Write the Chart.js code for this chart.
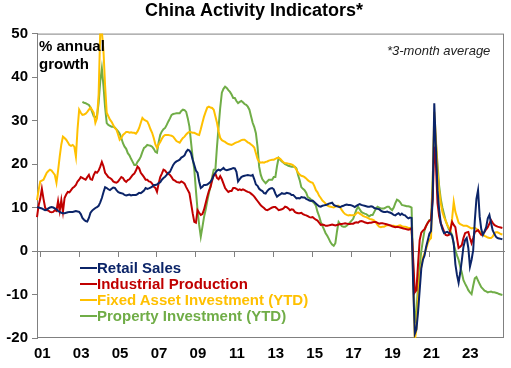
<!DOCTYPE html>
<html>
<head>
<meta charset="utf-8">
<script src="https://cdn.jsdelivr.net/npm/chart.js@4.4.1/dist/chart.umd.min.js"></script>
<style>
  html, body { margin: 0; padding: 0; background: #fff; }
  #wrap { position: relative; width: 511px; height: 368px; font-family: "Liberation Sans", Arial, sans-serif; }
  #chart { position: absolute; left: 0; top: 0; }
  .note { position: absolute; white-space: nowrap; color: #000; }
  #units { left: 39px; top: 37px; font-weight: bold; font-size: 15px; line-height: 18px; }
  #avg { left: 387px; top: 43px; font-style: italic; font-size: 13px; color: #222; }
  #legend { position: absolute; left: 80px; top: 260px; font-weight: bold; font-size: 15px; }
  #legend div { height: 16px; line-height: 16px; display: flex; align-items: center; white-space: nowrap; }
  #legend i { display: inline-block; width: 17px; height: 2px; }
</style>
</head>
<body>
<div id="wrap">
  <canvas id="chart" width="511" height="368"></canvas>
  <div class="note" id="units">% annual<br>growth</div>
  <div class="note" id="avg">*3-month average</div>
  <div id="legend"></div>
</div>
<script>
/* China activity indicators, 3-month average, monthly Nov 2000 - Oct 2024 */
const tickYears = ["01","03","05","07","09","11","13","15","17","19","21","23"];
const yTickValues = [-20, -10, 0, 10, 20, 30, 40, 50];

// month categories Nov 2000 .. Nov 2024
const months = [];
for (let i = 0; i < 289; i++) {
  const d = new Date(2000, 10 + i, 1);
  months.push(d.getFullYear() + "-" + String(d.getMonth() + 1).padStart(2, "0"));
}

const retailSales = [
  10.1, 10.0, 9.9, 9.8, 9.6, 9.4, 9.5, 9.8, 10.0, 10.1, 10.0, 9.8,
  9.6, 9.2, 9.0, 8.8, 8.7, 8.7, 8.8, 8.9, 9.0, 9.0, 9.0, 9.1,
  9.2, 9.1, 9.0, 8.5, 7.6, 7.2, 6.9, 6.8, 7.6, 8.8, 9.3, 9.6, 9.9,
  10.1, 10.4, 11.2, 12.2, 13.5, 14.7, 14.5, 14.2, 14.0, 14.3, 14.6, 14.5,
  14.0, 13.6, 13.4, 13.3, 13.2, 12.9, 12.8, 12.9, 13.0, 12.8, 12.9, 12.9,
  12.9, 13.1, 13.4, 13.3, 13.6, 13.9, 14.5, 14.3, 14.4, 14.6, 14.8, 15.2,
  15.2, 15.3, 15.6, 15.8, 16.4, 16.8, 17.1, 17.5, 18.0, 18.2, 19.0, 19.8,
  20.3, 20.6, 20.8, 21.0, 21.5, 21.7, 22.0, 22.8, 23.3, 23.1, 22.5, 21.0, 19.8,
  18.5, 18.0, 16.0, 14.5, 14.8, 15.2, 15.2, 15.3, 15.6, 15.9, 16.5, 17.4,
  18.0, 18.5, 18.7, 18.5, 18.8, 19.1, 18.7, 18.6, 18.7, 18.8, 18.9, 19.1,
  19.0, 18.2, 16.0, 16.5, 17.0, 17.2, 17.3, 17.4, 17.5, 17.4, 17.3, 17.5,
  16.5, 15.3, 15.0, 14.3, 14.0, 13.8, 13.3, 13.2, 13.8, 14.2, 14.4, 14.5, 14.2,
  13.2, 12.5, 12.8, 13.0, 13.3, 13.2, 13.2, 13.4, 13.3, 13.2, 12.9, 12.9,
  12.5, 12.1, 12.2, 12.1, 12.4, 12.3, 12.3, 12.0, 11.8, 11.6, 11.5, 11.6,
  11.3, 10.9, 10.6, 10.3, 10.2, 10.4, 10.5, 10.6, 10.7, 10.9, 11.0, 11.1,
  10.6, 10.4, 10.3, 10.2, 10.1, 10.3, 10.4, 10.6, 10.7, 10.6, 10.6, 10.5,
  10.3, 10.1, 10.4, 10.6, 10.8, 10.6, 10.5, 10.4, 10.3, 10.2, 10.2, 10.3, 10.2,
  9.9, 9.8, 9.7, 9.6, 9.3, 9.1, 9.0, 9.0, 9.1, 8.9, 8.8, 8.6,
  8.3, 8.2, 8.5, 8.7, 8.3, 8.6, 8.3, 8.2, 7.8, 7.5, 7.7, 7.6,
  -8, -19, -18, -14, -9, -4, -2, -1, 1, 2.5, 4, 4.6,
  12, 34, 24, 14, 9.5, 6.4, 5, 4.1, 4.3, 4.4, 4.2, 4.0,
  3.5, 1.8, -3, -5.5, -7.3, -5, -2.1, 1, 2.5, 3, 0.7, -3.6, -2,
  0.2, 7, 12, 14, 7.9, 5, 3.7, 4.5, 5.5, 7.5, 8.3, 6.5,
  4.8, 4, 3.3, 3, 2.9, 2.8, 2.7
];

const industrialProduction = [
  7.8, 10.5, 12.0, 14.3, 12.0, 10.0, 9.4, 9.3, 9.0, 8.9, 9.0, 9.4,
  9.2, 11.5, 9.2, 11.7, 9.0, 12.2, 13.0, 13.6, 13.5, 14.0, 14.5, 14.8,
  15.2, 16.0, 16.4, 17.0, 16.8, 16.6, 16.4, 17.0, 17.5, 16.5, 16.4, 17.5, 18.2,
  18.0, 18.5, 19.4, 20.5, 19.5, 18.0, 17.5, 17.0, 16.8, 16.5, 16.0, 15.8,
  15.7, 16.0, 16.5, 17.0, 16.8, 16.2, 15.9, 16.3, 16.5, 17.0, 17.5, 17.8,
  18.5, 19.4, 19.0, 18.0, 17.5, 17.0, 16.4, 16.4, 16.0, 15.9, 15.5, 14.8,
  14.5, 13.6, 15.5, 17.0, 17.8, 18.7, 18.5, 18.0, 17.8, 17.5, 17.0, 16.4,
  16.2, 15.9, 15.8, 15.7, 16.0, 15.8, 15.5, 14.7, 14.0, 13.3, 11.0, 8.7, 6.7,
  6.5, 9.4, 8.8, 8.3, 8.5, 9.5, 11.0, 12.5, 13.8, 14.7, 16.2, 17.5,
  17.8, 16.8, 16.5, 17.2, 16.5, 15.5, 14.5, 14.0, 13.6, 13.8, 13.8, 14.5,
  14.5, 14.3, 14.0, 14.2, 14.0, 14.2, 14.0, 13.8, 13.6, 13.5, 13.2, 12.9,
  12.5, 12.0, 11.5, 11.0, 10.5, 10.2, 9.9, 9.5, 9.4, 9.6, 9.8, 10.0, 10.1,
  10.1, 9.8, 9.4, 9.5, 9.6, 9.8, 10.2, 10.1, 9.8, 9.4, 9.6, 9.5,
  9.0, 8.8, 8.7, 8.7, 8.8, 8.5, 8.3, 8.2, 8.0, 7.8, 7.7, 7.8,
  7.5, 7.2, 7.0, 6.5, 6.0, 6.1, 6.0, 5.8, 5.8, 5.9, 6.0, 6.1,
  6.0, 5.9, 6.0, 6.1, 6.2, 6.2, 6.3, 6.4, 6.3, 6.2, 6.2, 6.3,
  6.3, 6.5, 6.6, 6.5, 6.8, 6.9, 6.8, 6.6, 6.5, 6.4, 6.5, 6.5, 6.6,
  6.7, 6.7, 6.5, 6.3, 6.4, 6.4, 6.3, 6.2, 6.1, 6.0, 5.9, 5.7,
  5.6, 5.5, 5.6, 5.5, 5.4, 5.3, 5.2, 5.1, 5.0, 4.9, 5.0, 5.2,
  -2, -9.5, -9, -3, 2.5, 4.2, 4.7, 5, 5.8, 6.5, 7, 7.1,
  12, 24, 20, 11, 8, 6.4, 5.5, 4.5, 3.7, 3.6, 3.7, 5,
  6.7, 6, 5.5, 3, 0.7, 1, 1.4, 3, 4.1, 4.3, 4.4, 3, 1.8,
  3, 4.4, 4.6, 4.8, 4.2, 3.7, 4, 4.4, 5, 5.5, 6.3, 7.1,
  6.5, 6, 5.8, 5.6, 5.5, 5.4, 5.3
];

const fixedAssetInv = [
  11.7, 14.0, 16.0, 16.2, 16.4, 17.2, 18.0, 18.4, 18.7, 18.5, 18.0, 17.5,
  15.7, 18.5, 21.7, 24.5, 26.3, 26.0, 25.6, 25.0, 24.4, 24.2, 24.4, 24.0,
  21.7, 28.0, 32.5, 31.8, 31.3, 31.4, 31.6, 32.0, 32.5, 33.0, 32.4, 31.8, 29.5,
  30.5, 36.0, 50.5, 50.5, 46.0, 38.0, 31.8, 31.0, 30.2, 29.7, 29.0, 28.3,
  27.9, 26.8, 25.6, 26.0, 26.7, 27.0, 27.4, 27.4, 27.2, 27.3, 27.2, 27.2,
  27.0, 27.5, 28.3, 29.5, 30.6, 30.2, 30.0, 29.8, 29.0, 28.0, 27.2, 26.0,
  24.5, 23.7, 24.5, 25.1, 25.8, 26.4, 26.7, 26.7, 26.7, 26.6, 26.5, 26.3,
  25.8, 25.3, 25.1, 24.9, 25.5, 26.0, 26.3, 26.8, 27.2, 27.4, 27.3, 27.2, 27.2,
  27.0, 26.8, 26.7, 28.0, 29.5, 30.9, 32.0, 33.0, 33.2, 33.0, 32.9, 32.5,
  31.0, 29.5, 27.5, 26.0, 25.5, 25.3, 25.1, 24.8, 24.6, 24.5, 24.4, 24.6,
  24.8, 25.0, 25.1, 25.3, 25.5, 25.6, 25.6, 25.3, 25.0, 24.8, 24.5, 24.2,
  23.8, 22.5, 21.2, 20.5, 20.3, 20.4, 20.3, 20.5, 20.6, 20.8, 20.9, 21.0, 21.0,
  21.2, 21.4, 21.4, 21.2, 20.8, 20.4, 20.2, 20.2, 20.1, 20.0, 19.9, 19.7,
  19.3, 18.7, 18.0, 17.6, 17.3, 17.2, 17.0, 16.7, 16.3, 16.0, 15.8, 15.7,
  15.0, 14.0, 13.5, 12.7, 12.2, 11.6, 11.3, 10.9, 10.5, 10.3, 10.2, 10.1,
  10.0, 10.2, 10.4, 10.4, 10.0, 9.4, 8.9, 8.5, 8.3, 8.2, 8.3, 8.2,
  8.2, 8.3, 8.7, 8.9, 8.6, 8.4, 8.1, 7.9, 7.8, 7.6, 7.4, 7.3, 7.2,
  7.0, 6.5, 6.0, 5.6, 5.5, 5.6, 5.6, 5.8, 6.0, 5.9, 5.8, 5.8,
  5.8, 5.7, 5.6, 5.8, 5.9, 5.7, 5.6, 5.6, 5.5, 5.3, 5.3, 5.4,
  -6, -20.5, -18, -11, -6, -3.5, -1.5, -0.5, 0.5, 1.8, 2.6, 3,
  15, 32, 26, 18, 14, 11, 9, 7.8, 7, 6, 5.4, 4.8,
  7.5, 11.3, 9, 7.8, 6.5, 6.2, 6, 5.8, 5.8, 5.8, 5.6, 5.4, 5.2,
  5.3, 5.3, 5.1, 4.8, 4.5, 4.1, 3.8, 3.5, 3.3, 3.1, 3.0, 3.0,
  3.3, 4.0, 4.3, 4.3, 4.1, 3.9, 3.8
];

const propertyInv = [
  null, null, null, null, null, null, null, null, null, null, null, null,
  null, null, null, null, null, null, null, null, null, null, null, null,
  null, null, null, null, 34.3, 34.1, 34.0, 33.8, 33.6, 33.0, 32.0, 31.0, 30.8,
  31.0, 34.0, 39.0, 42.0, 38.0, 33.0, 29.4, 29.0, 28.8, 28.6, 28.6, 28.4,
  28.0, 27.5, 27.0, 26.0, 24.8, 24.0, 23.5, 22.5, 22.0, 21.2, 20.5, 19.8,
  19.8, 20.5, 21.0, 21.7, 22.8, 23.7, 24.0, 24.4, 24.3, 24.2, 24.0, 23.5,
  22.8, 22.6, 25.0, 26.7, 27.5, 28.0, 28.3, 29.0, 29.8, 30.5, 31.3, 31.5,
  31.6, 31.7, 31.7, 31.7, 32.2, 32.5, 32.4, 32.0, 30.5, 28.6, 25.0, 21.5, 18.7,
  14.0, 9.4, 6.0, 3.3, 5.5, 7.8, 9.5, 11.5, 13.3, 15.0, 17.0, 18.7,
  18.7, 24.0, 28.6, 33.0, 36.4, 37.3, 37.8, 37.5, 37.0, 36.6, 36.0, 35.2,
  35.2, 34.5, 34.0, 34.3, 34.5, 34.2, 33.8, 33.6, 33.2, 32.5, 31.0, 29.5,
  28.5, 27.1, 24.0, 19.4, 17.5, 16.5, 16.0, 15.6, 16.0, 16.4, 16.4, 16.4, 17.0,
  17.0, 19.5, 21.4, 21.0, 20.6, 20.3, 20.0, 19.8, 19.6, 19.5, 19.4, 19.4,
  19.4, 19.0, 17.5, 16.3, 14.7, 14.3, 14.0, 13.4, 12.4, 12.2, 11.8, 11.3,
  11.0, 10.4, 9.0, 8.0, 6.7, 5.8, 5.0, 4.1, 3.5, 2.8, 2.0, 1.5,
  1.2, 1.8, 4.5, 6.7, 6.2, 5.7, 5.6, 5.6, 5.8, 6.2, 6.6, 7.0,
  7.4, 8.5, 9.5, 10.2, 9.6, 9.0, 8.8, 8.6, 8.5, 8.2, 8.0, 8.3, 8.3,
  9.0, 9.7, 10.2, 10.0, 9.8, 9.8, 9.8, 10.0, 10.2, 10.2, 9.7, 9.4,
  10.0, 11.0, 11.8, 11.6, 11.2, 10.6, 10.5, 10.4, 10.3, 10.3, 10.2, 10.0,
  -4, -16.6, -14, -8, -3.6, 0, 2.5, 4.8, 5.8, 6.5, 7.1, 7.2,
  16, 29, 25, 20, 15, 12, 10, 8.5, 7, 6, 5, 4.5,
  3.7, 1.5, 0.2, -1, -2, -3.6, -5, -6.7, -7.5, -8.2, -9, -9.5, -9.9,
  -8, -6.3, -6, -6.8, -7.6, -8.3, -8.7, -9.1, -9.3, -9.5, -9.4, -9.3,
  -9.5, -9.5, -9.6, -9.7, -9.9, -10, -10.1
];

const AXIS_GREY = "#808080";
const isLabelMonth = lab => lab && lab.endsWith("-01") && tickYears.includes(lab.slice(2, 4));

Chart.defaults.font.family = "'Liberation Sans', Arial, sans-serif";
Chart.defaults.color = "#000";

// grey box round the plot area, under the lines
const plotFrame = {
  id: "plotFrame",
  beforeDatasetsDraw(chart) {
    const { ctx, chartArea: a } = chart;
    ctx.save();
    ctx.strokeStyle = AXIS_GREY;
    ctx.lineWidth = 1;
    ctx.strokeRect(a.left + 0.5, a.top + 0.5, a.right - a.left - 1, a.bottom - a.top - 1);
    ctx.restore();
  }
};

const line = (label, data, color) => ({
  label, data, borderColor: color, backgroundColor: color,
  borderWidth: 2, pointRadius: 0, tension: 0, xAxisID: "x", yAxisID: "y"
});

const chart = new Chart(document.getElementById("chart"), {
  type: "line",
  data: {
    labels: months,
    datasets: [
      line("Retail Sales", retailSales, "#0B2468"),
      line("Industrial Production", industrialProduction, "#C00000"),
      line("Fixed Asset Investment (YTD)", fixedAssetInv, "#FFC000"),
      line("Property Investment (YTD)", propertyInv, "#70AD47"),
    ]
  },
  options: {
    responsive: false, animation: false, devicePixelRatio: 1,
    layout: { padding: { left: 0, right: 3, top: 0, bottom: 0 } },
    plugins: {
      legend: { display: false },
      tooltip: { enabled: false },
      title: {
        display: true, text: "China Activity Indicators*",
        font: { size: 18, weight: "bold" }, color: "#000",
        padding: { top: 0, bottom: 12 }
      }
    },
    scales: {
      // axis line at zero with the two-year tick marks
      x: {
        type: "category", position: { y: 0 },
        grid: {
          drawOnChartArea: false, drawTicks: true, tickLength: 5, lineWidth: 1,
          color: c => isLabelMonth(months[c.index]) ? AXIS_GREY : "rgba(0,0,0,0)"
        },
        border: { display: true, color: AXIS_GREY, width: 1 },
        ticks: { display: false }
      },
      // year labels along the bottom
      xl: {
        type: "category", position: "bottom",
        grid: { display: false, drawTicks: false },
        border: { display: false },
        ticks: {
          autoSkip: false, maxRotation: 0, minRotation: 0, padding: 7, labelOffset: 2,
          font: { size: 15, weight: "bold" }, color: "#000",
          callback: (v, i) => isLabelMonth(months[i]) ? months[i].slice(2, 4) : ""
        },
        afterFit: s => { s.height = 30; }
      },
      y: {
        min: -20, max: 50,
        afterBuildTicks: s => { s.ticks = yTickValues.map(v => ({ value: v })); },
        grid: { drawOnChartArea: false, drawTicks: true, tickLength: 5, color: AXIS_GREY },
        border: { color: AXIS_GREY },
        ticks: { padding: 4, font: { size: 15, weight: "bold" }, color: "#000" },
        afterFit: s => { s.width = 37; }
      }
    }
  },
  plugins: [plotFrame]
});

document.getElementById("legend").innerHTML = chart.data.datasets.map(d =>
  `<div style="color:${d.borderColor}"><i style="background:${d.borderColor}"></i>${d.label}</div>`
).join("");
</script>
</body>
</html>
